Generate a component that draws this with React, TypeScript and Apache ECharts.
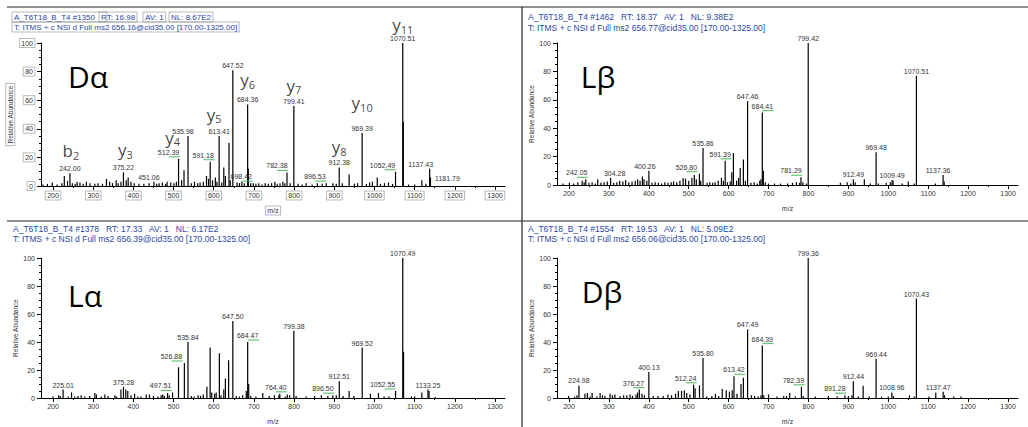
import React, { useEffect, useRef } from "react";
import * as echarts from "echarts";

// ---------- DATA ----------
const xMajorTicks = [200, 300, 400, 500, 600, 700, 800, 900, 1000, 1100, 1200, 1300];
const xMinorTicks = [250, 350, 450, 550, 650, 750, 850, 950, 1050, 1150, 1250];

// [m/z, relative abundance]
const dAlphaPeaks: [number, number][] = [
  [175, 1], [186, 1.5], [198, 2.5], [210, 1], [222, 2], [228, 7], [236, 3.5], [248, 2], [255, 1.5], [260, 3],
  [267, 2.5], [275, 1.5], [283, 3], [292, 2], [304, 1.5], [312, 2], [323, 1.5], [333, 5], [341, 3], [348, 2],
  [357, 4], [362, 2], [369, 3], [382, 4], [387, 6], [394, 3], [402, 2], [414, 1.5], [426, 1.5], [439, 2],
  [458, 1.5], [464, 2], [472, 2.5], [480, 1.5], [484, 3], [493, 2.5], [501, 2], [507, 3], [520, 4], [526, 11],
  [544, 2], [552, 3], [560, 2], [566, 2.5], [574, 3], [582, 7], [587, 5], [597, 4], [604, 6], [608, 3],
  [620, 2.5], [625, 13], [629, 7], [638, 30], [641, 4], [658, 2.5], [664, 2], [670, 3], [676, 2], [686, 12],
  [692, 2], [705, 1.5], [712, 2], [720, 1], [728, 2], [736, 1.5], [744, 2], [752, 3], [758, 1.5], [765, 2],
  [772, 3], [777, 2], [790, 2], [810, 1.5], [820, 1], [830, 2], [845, 1], [858, 2], [870, 1.5], [880, 2],
  [905, 1.5], [920, 2], [937, 8], [950, 1.5], [958, 2], [980, 1.5], [988, 2.5], [995, 3], [1007, 6], [1015, 1.5],
  [1025, 2], [1035, 2.5], [1045, 1.5], [1072, 45], [1085, 1], [1100, 1], [1118, 4], [1128, 1.5],
];
const dAlphaLabelled: [number, number, string][] = [
  [242.0, 9, "242.00"], [375.22, 9.5, "375.22"], [451.06, 3, "451.06"], [512.39, 19, "512.39"],
  [535.98, 35, "535.98"], [591.18, 17, "591.18"], [613.41, 35, "613.41"], [647.52, 81, "647.52"],
  [684.36, 57, "684.36"], [698.42, 2, "698.42"], [782.38, 9.5, "782.38"], [799.41, 56, "799.41"],
  [896.53, 2, "896.53"], [912.38, 13, "912.38"], [969.39, 37, "969.39"], [1052.49, 10, "1052.49"],
  [1070.51, 100, "1070.51"], [1137.43, 12, "1137.43"], [1139.5, 6, "1181.79"],
];
// [m/z, ion letter, ion number]
const dAlphaIons: [number, string, string][] = [
  [242.0, "b", "2"], [375.22, "y", "3"], [512.39, "y", "4"], [613.41, "y", "5"], [684.36, "y", "6"],
  [799.41, "y", "7"], [912.38, "y", "8"], [969.39, "y", "10"], [1070.51, "y", "11"],
];

const lBetaPeaks: [number, number][] = [
  [185, 1], [201, 1.5], [212, 1], [222, 2], [233, 3], [238, 2], [250, 1.5], [258, 2], [266, 1], [272, 4],
  [280, 1.5], [288, 2], [296, 2.5], [312, 1.5], [320, 2], [327, 3], [335, 2.5], [342, 3.5], [350, 2], [358, 2.5],
  [366, 3], [372, 4], [378, 3], [384, 6], [388, 4], [395, 3], [408, 1.5], [416, 2], [424, 1.5], [432, 1],
  [440, 2], [448, 1.5], [456, 2], [462, 2.5], [470, 2], [478, 3], [486, 5], [492, 4.5], [500, 3], [508, 5],
  [514, 7], [519, 4], [530, 3], [546, 1.5], [553, 2], [560, 1.5], [566, 2], [574, 3], [582, 5], [587, 3],
  [597, 2], [604, 2.5], [608, 9], [612, 22.5], [620, 3], [625, 5], [629, 12], [637, 18], [642, 3], [656, 1.5],
  [664, 2], [672, 1], [678, 3], [681, 4], [687, 10], [692, 2], [700, 1], [715, 1], [730, 1], [748, 1],
  [760, 1.5], [770, 2], [778, 1.5], [786, 2], [795, 1], [880, 1.5], [897, 2], [906, 1], [917, 2], [940, 4],
  [955, 1], [975, 1], [995, 1.5], [1005, 2], [1012, 3], [1035, 1], [1050, 2.5], [1065, 1], [1118, 1], [1140, 2.5],
];
const lBetaLabelled: [number, number, string][] = [
  [242.05, 4, "242.05"], [304.28, 5, "304.28"], [400.26, 10, "400.26"], [526.8, 8, "526.80"],
  [535.86, 26, "535.86"], [591.39, 17, "591.39"], [647.46, 59, "647.46"], [684.41, 51, "684.41"],
  [781.29, 5.5, "781.29"], [799.42, 100, "799.42"], [912.49, 4, "912.49"], [969.48, 23, "969.48"],
  [1009.49, 3.5, "1009.49"], [1070.51, 77, "1070.51"], [1137.36, 7, "1137.36"],
];

const lAlphaPeaks: [number, number][] = [
  [200, 1], [214, 2], [218, 1.5], [238, 1], [246, 4], [254, 1], [262, 1.5], [270, 2], [279, 1], [291, 1.5],
  [304, 3.5], [308, 2.5], [320, 1], [329, 2.5], [337, 1.5], [354, 2], [358, 1], [369, 6], [381, 6], [386, 5],
  [394, 2], [403, 3], [411, 1], [419, 1], [432, 2.5], [440, 2.5], [450, 1.5], [461, 1], [469, 2], [473, 2.5],
  [477, 1.5], [485, 3.5], [489, 2], [512.3, 22], [544, 1.5], [551, 1], [561, 2], [567, 1.5], [574, 2.5], [583, 8],
  [591, 36], [595, 4], [602, 3], [606, 4], [614, 32], [618, 2], [625, 6], [629, 14], [637, 27], [656, 1.5],
  [664, 1], [672, 2], [681, 5], [687, 10], [692, 1.5], [705, 1], [722, 3.5], [738, 1.5], [751, 2], [762, 2],
  [778, 1], [783, 2.5], [789, 2], [805, 1.5], [830, 1], [851, 1.5], [868, 2], [884, 1.5], [905, 2], [922, 1.5],
  [937, 5], [949, 1.5], [990, 3], [1010, 3.5], [1024, 1], [1036, 1], [1072.5, 33], [1092, 1], [1100, 1], [1118, 4],
  [1136, 5], [1151, 0.8],
];
const lAlphaLabelled: [number, number, string][] = [
  [225.01, 6, "225.01"], [375.28, 8, "375.28"], [497.51, 4, "497.51"], [526.88, 25, "526.88"],
  [535.84, 40, "535.84"], [647.5, 55, "647.50"], [684.47, 40, "684.47"], [764.4, 3, "764.40"],
  [799.38, 48, "799.38"], [896.5, 2, "896.50"], [912.51, 12, "912.51"], [969.52, 36, "969.52"],
  [1052.55, 5, "1052.55"], [1070.49, 100, "1070.49"], [1133.25, 6, "1133.25"],
];

const dBetaPeaks: [number, number][] = [
  [199, 1.5], [214, 1], [220, 2], [240, 3], [246, 3.5], [253, 1], [258, 3.5], [270, 1], [278, 3.5], [284, 2],
  [290, 1.5], [303, 3], [309, 2], [315, 2.5], [328, 1.5], [337, 2], [345, 2], [353, 2.5], [359, 1.5], [368, 2.5],
  [372, 4], [383, 3], [389, 2], [411, 1.5], [423, 1.5], [436, 1.5], [448, 2.5], [457, 2], [467, 3], [474, 5],
  [482, 5], [489, 5.5], [495, 3.5], [503, 2.5], [516, 7], [527, 9], [545, 1], [558, 1.5], [567, 3], [575, 1.5],
  [584, 6.5], [594, 5.5], [602, 4.5], [609, 5.5], [621, 3], [631, 10], [637, 14.5], [657, 2], [665, 1.5], [674, 1],
  [681, 2], [688, 2], [700, 2.5], [721, 1], [738, 1.5], [745, 1.5], [753, 3.5], [767, 1], [787, 1.5], [817, 1],
  [850, 1.5], [872, 1], [900, 1.5], [909, 2], [925, 1], [937, 8.8], [952, 1], [983, 1], [1000, 1], [1013, 1.5],
  [1053, 2], [1065, 1], [1102, 1], [1119, 4], [1141, 2], [1164, 1], [1182, 1],
];
const dBetaLabelled: [number, number, string][] = [
  [224.98, 9, "224.98"], [376.27, 6, "376.27"], [400.13, 18.5, "400.13"], [512.24, 9.5, "512.24"],
  [535.8, 28.5, "535.80"], [613.42, 15.5, "613.42"], [647.49, 49, "647.49"], [684.39, 37.5, "684.39"],
  [782.39, 8, "782.39"], [799.36, 100, "799.36"], [891.28, 2, "891.28"], [912.44, 12, "912.44"],
  [969.44, 28, "969.44"], [1008.96, 4, "1008.96"], [1070.43, 71, "1070.43"], [1137.47, 4.5, "1137.47"],
];

// labels that carry a green leader mark
const dAlphaGreen = ["512.39", "591.18", "698.42", "782.38", "896.53", "1052.49"];
const lBetaGreen = ["242.05", "526.80", "591.39", "684.41", "781.29"];
const lAlphaGreen = ["497.51", "526.88", "684.47", "764.40", "896.50", "1052.55"];
const dBetaGreen = ["376.27", "512.24", "613.42", "684.39", "782.39", "891.28"];

const dAlphaHeader = ["A_T6T18_B_T4 #1350", "RT: 16.98", "AV: 1", "NL: 8.67E2"];
const dAlphaScan = "T: ITMS + c NSI d Full ms2 656.16@cid35.00 [170.00-1325.00]";
const lBetaHeader = "A_T6T18_B_T4 #1462   RT: 18.37   AV: 1   NL: 9.38E2";
const lBetaScan = "T: ITMS + c NSI d Full ms2 656.77@cid35.00 [170.00-1325.00]";
const lAlphaHeader = "A_T6T18_B_T4 #1378   RT: 17.33   AV: 1   NL: 6.17E2";
const lAlphaScan = "T: ITMS + c NSI d Full ms2 656.39@cid35.00 [170.00-1325.00]";
const dBetaHeader = "A_T6T18_B_T4 #1554   RT: 19.53   AV: 1   NL: 5.09E2";
const dBetaScan = "T: ITMS + c NSI d Full ms2 656.06@cid35.00 [170.00-1325.00]";

const panelNames = ["Dα", "Lβ", "Lα", "Dβ"];

// ---------- LAYOUT / STYLE ----------
const FONT = "'Liberation Sans', Arial, sans-serif";
const BIG = "'Open Sans', 'Noto Sans', sans-serif";
const BLUE = "#2b47a6";
const GREEN = "#3fb34f";
const TXT = "#333333";

const labelShift: Record<string, [number, number]> = {
  "451.06": [-5, 0], "512.39": [-10, 0], "535.98": [-5, 0], "591.18": [-7, 0], "698.42": [-12, 0],
  "782.38": [-10, 0], "896.53": [-18, 0], "1052.49": [-13, 0], "1137.43": [-9, 0], "1181.79": [17, 6],
  "242.05": [-9, 0], "304.28": [4, 0], "400.26": [-4, 0], "526.80": [-13, 0], "591.39": [-5, 0],
  "781.29": [-10, 0], "1137.36": [-5, 0],
  "497.51": [-12, 0], "526.88": [-13, 0], "764.40": [-4, 0], "896.50": [-10, 0], "1052.55": [-13, 0],
  "376.27": [-6, 0], "512.24": [-8, 0], "782.39": [-8, 0], "891.28": [-10, 0], "1137.47": [-5, 0],
};
const ionShift: Record<string, [number, number]> = {
  b2: [1, -2], y3: [2, -2], y4: [-6, -1], y5: [-5, -1], y6: [0, -4], y7: [0, 0], y8: [0, 0], y10: [0, -10], y11: [0, 2],
};

const panels = [
  { peaks: dAlphaPeaks, labelled: dAlphaLabelled, ions: dAlphaIons, green: dAlphaGreen, boxed: true,
    grid: { left: 41, top: 43, width: 464, height: 143 }, name: [88, 76], hx: 12, hy: [17, 27] },
  { peaks: lBetaPeaks, labelled: lBetaLabelled, ions: [] as [number, string, string][], green: lBetaGreen, boxed: false,
    grid: { left: 557, top: 43, width: 461, height: 142 }, name: [598, 76], hx: 528, hy: [17, 28] },
  { peaks: lAlphaPeaks, labelled: lAlphaLabelled, ions: [] as [number, string, string][], green: lAlphaGreen, boxed: false,
    grid: { left: 41, top: 258, width: 464, height: 140 }, name: [85, 295], hx: 13, hy: [229, 239] },
  { peaks: dBetaPeaks, labelled: dBetaLabelled, ions: [] as [number, string, string][], green: dBetaGreen, boxed: false,
    grid: { left: 557, top: 258, width: 461, height: 140 }, name: [602, 291], hx: 528, hy: [229, 239] },
];

// approximate width of a 7px Liberation Sans number label
const labelWidth = (t: string) => (t.length - 1) * 3.9 + 1.95;

function buildOption() {
  const grids: any[] = [];
  const xAxes: any[] = [];
  const yAxes: any[] = [];
  const series: any[] = [];
  const graphics: any[] = [];

  panels.forEach((p, i) => {
    const box = p.boxed ? { borderColor: "#8a8a8a", borderWidth: 0.6, padding: [1, 2] } : {};
    grids.push({ ...p.grid, containLabel: false, outerBoundsMode: "none" });
    xAxes.push({
      gridIndex: i, type: "value", min: 170, max: 1325, position: "bottom",
      name: "m/z", nameLocation: "middle", nameGap: 20,
      nameTextStyle: { fontSize: 7, fontFamily: FONT, color: TXT, ...box },
      axisLine: { show: true, onZero: false, lineStyle: { color: "#000", width: 1 } },
      axisTick: { show: true, customValues: xMajorTicks, length: 4, lineStyle: { color: "#000" } },
      axisLabel: {
        customValues: xMajorTicks, fontSize: 7, fontFamily: FONT, color: TXT, margin: 5, ...box,
        formatter: (v: number) => String(v),
      },
      splitLine: { show: false },
    });
    xAxes.push({
      gridIndex: i, type: "value", min: 170, max: 1325, position: "bottom",
      axisLine: { show: false },
      axisTick: { show: true, customValues: xMinorTicks, length: 2, lineStyle: { color: "#000" } },
      axisLabel: { show: false, customValues: xMinorTicks },
      splitLine: { show: false },
    });
    yAxes.push({
      gridIndex: i, type: "value", min: 0, max: 100, interval: 20,
      name: "Relative Abundance", nameLocation: "middle", nameGap: 22,
      nameTextStyle: { fontSize: 6.5, fontFamily: FONT, color: TXT, ...box },
      axisLine: { show: true, onZero: false, lineStyle: { color: "#000", width: 1 } },
      axisTick: { show: true, length: 4, lineStyle: { color: "#000" } },
      minorTick: { show: true, splitNumber: 4, length: 2, lineStyle: { color: "#000" } },
      axisLabel: { fontSize: 7, fontFamily: FONT, color: TXT, margin: 6, ...box },
      splitLine: { show: false },
    });

    const data: any[] = p.peaks.map((d) => ({ value: [d[0], d[1]] }));
    p.labelled.forEach((d) => {
      const green = p.green.includes(d[2]);
      data.push({
        value: [d[0], d[1]],
        label: {
          show: true, position: "top", distance: green ? 3 : 1,
          color: TXT, fontSize: 7, fontFamily: FONT, textBorderWidth: 0, textShadowBlur: 0,
          offset: labelShift[d[2]] || [0, 0],
          formatter: d[2],
        },
      });
    });
    series.push({
      type: "bar", xAxisIndex: i * 2, yAxisIndex: i, barWidth: 1.2,
      itemStyle: { color: "#000" }, data, silent: true,
    });

    // green leader marks under the shifted labels
    const greenData = p.labelled
      .filter((d) => p.green.includes(d[2]))
      .map((d) => {
        const sh = labelShift[d[2]] || [0, 0];
        return {
          value: [d[0], d[1]],
          symbolOffset: [sh[0] + labelWidth(d[2]) / 2 - 5, -2],
        };
      });
    series.push({
      type: "scatter", xAxisIndex: i * 2, yAxisIndex: i, symbol: "rect", symbolSize: [11, 1.2],
      itemStyle: { color: GREEN }, silent: true, data: greenData, z: 3,
    });

    if (p.ions.length) {
      series.push({
        type: "scatter", xAxisIndex: i * 2, yAxisIndex: i, symbolSize: 1,
        itemStyle: { color: "transparent" }, silent: true,
        data: p.ions.map((ion) => {
          const pk = p.labelled.find((l) => l[0] === ion[0]);
          const key = ion[1] + ion[2];
          return {
            value: [ion[0], pk ? pk[1] : 0],
            label: {
              show: true, position: "top", distance: 10, color: "#111",
              offset: ionShift[key] || [0, 0],
              formatter: `{i|${ion[1]}}{s|${ion[2]}}`,
              rich: {
                i: { fontSize: 17, fontFamily: BIG, color: "#111", lineHeight: 20 },
                s: { fontSize: 11, fontFamily: BIG, color: "#111", lineHeight: 11, verticalAlign: "bottom" },
              },
            },
          };
        }),
      });
    }

    graphics.push({
      type: "text", x: p.name[0], y: p.name[1],
      style: { text: panelNames[i], font: `30px ${BIG}`, fill: "#000", align: "center", verticalAlign: "middle" },
    });
  });

  // headers
  const hf = `8.5px ${FONT}`;
  const bf = `8px ${FONT}`;
  const p0 = panels[0];
  const boxX = [12, 99, 143, 169];
  const boxPad: number[][] = [[1, 12, 1, 2], [1, 2], [1, 2], [1, 2]];
  dAlphaHeader.forEach((t, k) => {
    graphics.push({
      type: "text", x: boxX[k], y: p0.hy[0],
      style: { text: t, font: bf, fill: BLUE, verticalAlign: "middle", borderColor: "#8a8a8a", borderWidth: 0.6, padding: boxPad[k] },
    });
  });
  graphics.push({
    type: "text", x: 12, y: p0.hy[1],
    style: { text: dAlphaScan, font: bf, fill: BLUE, verticalAlign: "middle", borderColor: "#8a8a8a", borderWidth: 0.6, padding: [1, 2] },
  });
  const others: [number, string, string][] = [[1, lBetaHeader, lBetaScan], [2, lAlphaHeader, lAlphaScan], [3, dBetaHeader, dBetaScan]];
  others.forEach(([idx, h, s]) => {
    const p = panels[idx];
    graphics.push({ type: "text", x: p.hx, y: p.hy[0], style: { text: h, font: hf, fill: BLUE, verticalAlign: "middle" } });
    graphics.push({ type: "text", x: p.hx, y: p.hy[1], style: { text: s, font: hf, fill: BLUE, verticalAlign: "middle" } });
  });

  // frame lines
  const ls = { stroke: "#222", lineWidth: 1.2 };
  graphics.push({ type: "line", shape: { x1: 7, y1: 7, x2: 1028, y2: 7 }, style: ls });
  graphics.push({ type: "line", shape: { x1: 7, y1: 221, x2: 1028, y2: 221 }, style: ls });
  graphics.push({ type: "line", shape: { x1: 522, y1: 7, x2: 522, y2: 427 }, style: ls });

  return {
    animation: false,
    backgroundColor: "#fff",
    grid: grids,
    xAxis: xAxes,
    yAxis: yAxes,
    series,
    graphic: graphics,
  };
}

export default function App() {
  const ref = useRef<HTMLDivElement>(null);
  useEffect(() => {
    if (!ref.current) return;
    const chart = echarts.init(ref.current, undefined, { renderer: "svg" });
    chart.setOption(buildOption() as any);
    return () => chart.dispose();
  }, []);
  return (
    <div
      ref={ref}
      style={{ position: "fixed", left: 0, top: 0, width: 1028, height: 427, background: "#fff" }}
    />
  );
}
